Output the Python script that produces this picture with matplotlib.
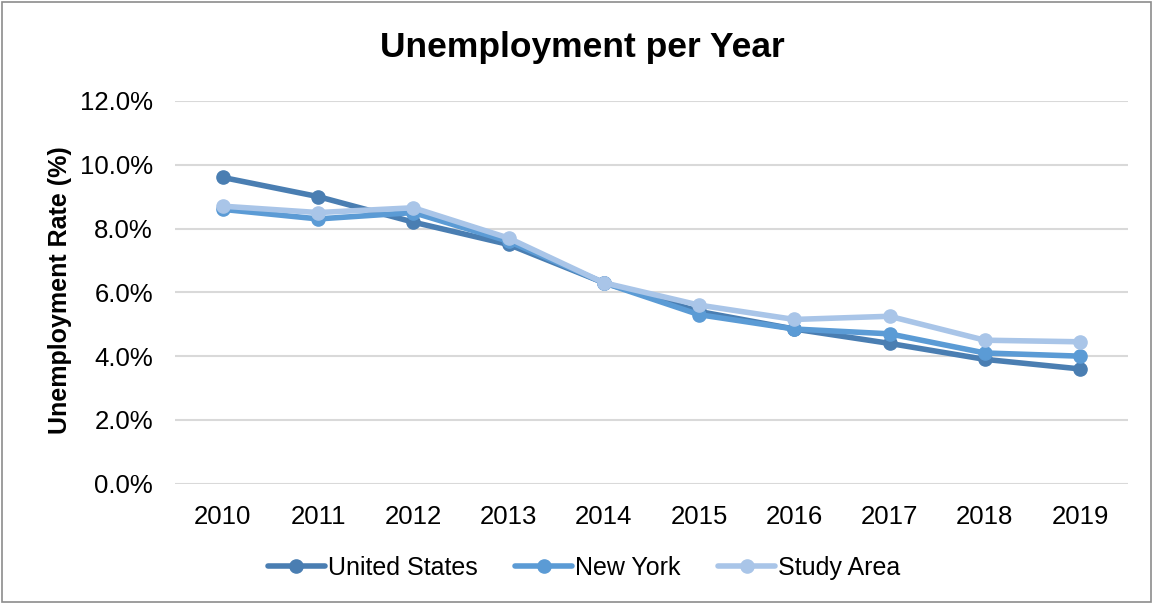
import matplotlib
matplotlib.use("Agg")
import matplotlib.pyplot as plt
from matplotlib.ticker import PercentFormatter

years = ["2010", "2011", "2012", "2013", "2014", "2015", "2016", "2017", "2018", "2019"]
united_states = [9.6, 9.0, 8.2, 7.5, 6.3, 5.4, 4.85, 4.4, 3.9, 3.6]
new_york = [8.6, 8.3, 8.5, 7.6, 6.3, 5.3, 4.85, 4.7, 4.1, 4.0]
study_area = [8.7, 8.5, 8.65, 7.7, 6.3, 5.6, 5.15, 5.25, 4.5, 4.45]

series = [
    ("United States", united_states, "#4a7eb2"),
    ("New York", new_york, "#5b9bd5"),
    ("Study Area", study_area, "#a9c5e8"),
]

plt.rcParams["font.family"] = ["Liberation Sans", "DejaVu Sans"]

fig = plt.figure(figsize=(11.53, 6.04), dpi=100)
ax = fig.add_axes([0.152, 0.199, 0.826, 0.634])

x = list(range(len(years)))
for name, vals, color in series:
    ax.plot(x, vals, color=color, linewidth=4, marker="o", markersize=9.5,
            label=name, solid_capstyle="round", solid_joinstyle="round")

ax.set_xlim(-0.5, len(years) - 0.5)
ax.set_ylim(0, 12)
ax.set_yticks([0, 2, 4, 6, 8, 10, 12])
ax.yaxis.set_major_formatter(PercentFormatter(decimals=1))
ax.set_xticks(x)
ax.set_xticklabels(years)
ax.tick_params(axis="both", length=0, labelsize=18.5)
ax.tick_params(axis="x", pad=15)
ax.tick_params(axis="y", pad=16)

ax.grid(axis="y", color="#d9d9d9", linewidth=1.5)
ax.set_axisbelow(True)
for s in ax.spines.values():
    s.set_visible(False)

ax.set_ylabel("Unemployment Rate (%)", fontsize=18, fontweight="bold")
ax.yaxis.set_label_coords(-0.108, 0.505)
fig.text(0.505, 0.922, "Unemployment per Year", ha="center", va="center",
         fontsize=25.5, fontweight="bold")

fig.legend(loc="center", bbox_to_anchor=(0.5065, 0.06), ncol=3, frameon=False,
           fontsize=18, handlelength=2.3, handletextpad=0.1, columnspacing=1.5)

fig.patches.append(plt.Rectangle((0.002, 0.003), 0.996, 0.994, transform=fig.transFigure,
                                 fill=False, edgecolor="#8c8c8c", linewidth=1.2))

fig.savefig("out.png", dpi=100)
